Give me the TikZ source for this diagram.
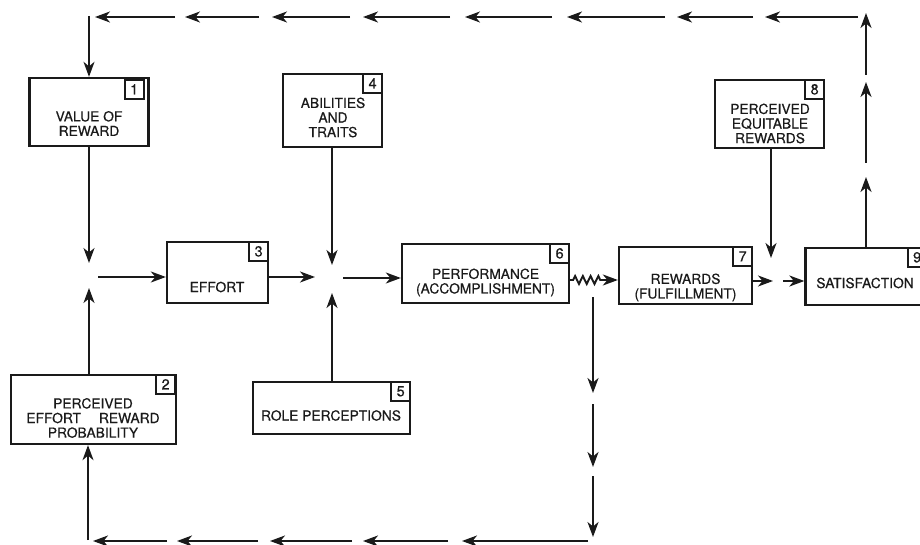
\documentclass[tikz,border=0pt]{standalone}
\usepackage{fontspec}
\setmainfont{TeX Gyre Heros}[FakeBold=0.5]
\usetikzlibrary{arrows.meta,decorations.pathmorphing}
\definecolor{ink}{HTML}{1A1A1A}
\begin{document}
\begin{tikzpicture}[x=1pt,y=-1pt,
  box/.style={draw=ink, line width=2.3pt, inner sep=0pt},
  numbox/.style={draw=ink, text=ink, line width=2pt, minimum size=19pt, inner sep=0pt,
    font=\fontsize{14.5pt}{14pt}\selectfont, anchor=north east},
  txt/.style={align=center, inner sep=0pt, text=ink, font=\fontsize{13.8pt}{14.6pt}\selectfont},
  arr/.style={draw=ink, line width=1.9pt, -{Stealth[length=15pt,width=11pt,inset=4.5pt]}},
  zz/.style={decorate, decoration={zigzag, segment length=7.75pt, amplitude=4pt, pre length=3pt, post length=16pt}},
]
\useasboundingbox (0,0) rectangle (920,545);
\clip (0,0) rectangle (920,545);
\fill[white] (0,0) rectangle (920,545);

% boxes
\node[box, minimum width=119pt, minimum height=68pt] (b1) at (89,112) {};
\node[txt] (t1) at (89,123.5) {VALUE OF\\REWARD};
\node[numbox] (n1) at ([xshift=-5pt,yshift=-2pt]b1.north east) {1};

\node[box, minimum width=165pt, minimum height=69pt] (b2) at (93.5,409.5) {};
\node[txt] (t2) at (93,418) {PERCEIVED\\EFFORT\hspace{18pt}REWARD\\PROBABILITY};
\node[numbox] (n2) at ([xshift=-1pt]b2.north east) {2};

\node[box, minimum width=101pt, minimum height=61pt] (b3) at (217.5,272.5) {};
\node[txt] (t3) at (217,287) {EFFORT};
\node[numbox] (n3) at (b3.north east) {3};

\node[box, minimum width=99pt, minimum height=73pt] (b4) at (332.5,110.5) {};
\node[txt] (t4) at (333,117.5) {ABILITIES\\AND\\TRAITS};
\node[numbox] (n4) at (b4.north east) {4};

\node[box, minimum width=157pt, minimum height=52pt] (b5) at (331.5,408) {};
\node[txt] (t5) at (331,415.5) {ROLE PERCEPTIONS};
\node[numbox] (n5) at (b5.north east) {5};

\node[box, minimum width=167pt, minimum height=59pt] (b6) at (485.5,273.5) {};
\node[txt] (t6) at (485.5,282.5) {PERFORMANCE\\(ACCOMPLISHMENT)};
\node[numbox] (n6) at (b6.north east) {6};

\node[box, minimum width=133pt, minimum height=57pt] (b7) at (685.5,275.5) {};
\node[txt] (t7) at (685.5,287.5) {REWARDS\\(FULFILLMENT)};
\node[numbox] (n7) at (b7.north east) {7};

\node[box, minimum width=109pt, minimum height=68pt] (b8) at (769.5,114) {};
\node[txt] (t8) at (770,123.5) {PERCEIVED\\EQUITABLE\\REWARDS};
\node[numbox] (n8) at (b8.north east) {8};

\node[box, minimum width=121pt, minimum height=57pt] (b9) at (866,276.5) {};
\node[txt] (t9) at (865,283) {SATISFACTION};
\node[numbox] (n9) at (b9.north east) {9};

% named free ends
\coordinate (tl) at (89,16);
\coordinate (j1n) at (89,263);
\coordinate (j1s) at (89,288);
\coordinate (j1e) at (98,277);
\coordinate (j2w) at (315,277);
\coordinate (j2e) at (343,278);
\coordinate (j2n) at (332,265);
\coordinate (j2s) at (332,293);
\coordinate (zc) at (569,280);
\coordinate (j3w) at (773,281);
\coordinate (j3e) at (783,281);
\coordinate (j3n) at (771,258);
\coordinate (bl) at (88,540);
\coordinate (u0e) at (866,177);

% main flow
\draw[arr] (tl) -- (b1.north);
\draw[arr] (b1.south) -- (j1n);
\draw[arr] (b2.north -| j1s) -- (j1s);
\draw[arr] (j1e) -- (b3.west |- j1e);
\draw[arr] (b3.east |- j2w) -- (j2w);
\draw[arr] (j2e) -- (b6.west |- j2e);
\draw[arr] (b4.south -| j2n) -- (j2n);
\draw[arr] (b5.north -| j2s) -- (j2s);
\draw[arr, zz] (b6.east |- zc) -- (b7.west |- zc);
\draw[arr] (b7.east |- j3w) -- (j3w);
\draw[arr] (j3e) -- (b9.west |- j3e);
\draw[arr] (b8.south -| j3n) -- (j3n);
\draw[arr] (b9.north -| u0e) -- (u0e);
\draw[arr] (bl) -- (b2.south -| bl);

% right riser (segmented)
\foreach [count=\i] \s/\e in {163/82, 75/13} {
  \coordinate (us\i) at (866,\s); \coordinate (ue\i) at (866,\e);
  \draw[arr] (us\i) -- (ue\i);
}
% top return (segmented)
\foreach [count=\i] \s/\e in {858/765, 753/677, 665/567, 552/465, 450/363, 350/272, 259/185, 175/95} {
  \coordinate (ts\i) at (\s,17); \coordinate (te\i) at (\e,17);
  \draw[arr] (ts\i) -- (te\i);
}
% down from performance (segmented)
\foreach [count=\i] \s/\e in {297/393, 404/467, 476/537} {
  \coordinate (ds\i) at (593,\s); \coordinate (de\i) at (593,\e);
  \draw[arr] (ds\i) -- (de\i);
}
% bottom return (segmented)
\foreach [count=\i] \s/\e in {588/462, 448/363, 352/270, 258/177, 167/93} {
  \coordinate (bs\i) at (\s,541); \coordinate (be\i) at (\e,541);
  \draw[arr] (bs\i) -- (be\i);
}
\end{tikzpicture}
\end{document}
